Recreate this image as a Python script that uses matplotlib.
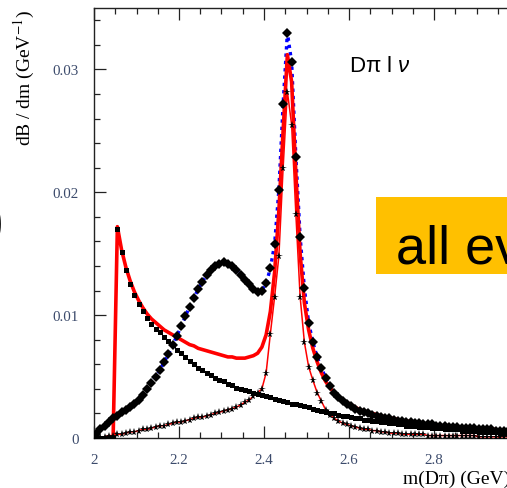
import numpy as np
import matplotlib
matplotlib.use('Agg')
import matplotlib.pyplot as plt
from matplotlib.ticker import MultipleLocator

plt.rcParams['mathtext.fontset'] = 'custom'
plt.rcParams['mathtext.rm'] = 'Liberation Sans'
plt.rcParams['mathtext.it'] = 'Liberation Sans:italic'

# bin centres of m(D pi), 10 MeV bins from 2.0 to 3.0 GeV
m_bins = np.round(np.arange(2.005, 3.0, 0.01), 3)

# full model (diamonds + blue dotted)
total = [
    0.0003, 0.0007, 0.0010, 0.0013, 0.0016, 0.0018, 0.0021, 0.0023, 0.0025, 0.0028,
    0.0031, 0.0035, 0.0040, 0.0045, 0.0050, 0.0055, 0.0062, 0.0068, 0.0076, 0.0083,
    0.0091, 0.0099, 0.0107, 0.0114, 0.0121, 0.0127, 0.0133, 0.0137, 0.0140, 0.0142,
    0.0143, 0.0142, 0.0140, 0.0137, 0.0133, 0.0129, 0.0125, 0.0121, 0.0119, 0.0120,
    0.0126, 0.0138, 0.0158, 0.0202, 0.0272, 0.0330, 0.0306, 0.0229, 0.0164, 0.0122,
    0.0094, 0.0078, 0.0066, 0.0057, 0.0049, 0.0042, 0.0037, 0.0033, 0.0030, 0.0028,
    0.0026, 0.0024, 0.0022, 0.0021, 0.0020, 0.0019, 0.0018, 0.0017, 0.0016, 0.0016,
    0.0015, 0.0014, 0.0014, 0.0013, 0.0013, 0.0012, 0.0012, 0.0011, 0.0011, 0.0011,
    0.0010, 0.0010, 0.0010, 0.0009, 0.0009, 0.0009, 0.0008, 0.0008, 0.0008, 0.0008,
    0.0007, 0.0007, 0.0007, 0.0007, 0.0006, 0.0006, 0.0006, 0.0006, 0.0006, 0.0005,
]

# two-resonance model (thick red)
two_res = [
    0.0000, 0.0000, 0.0000, 0.0000, 0.0000, 0.0172, 0.0153, 0.0139, 0.0128, 0.0119,
    0.0112, 0.0106, 0.0101, 0.0097, 0.0094, 0.0091, 0.0088, 0.0086, 0.0084, 0.0082,
    0.0080, 0.0078, 0.0076, 0.0075, 0.0073, 0.0072, 0.0071, 0.0070, 0.0069, 0.0068,
    0.0067, 0.0066, 0.0066, 0.0065, 0.0065, 0.0065, 0.0066, 0.0067, 0.0069, 0.0074,
    0.0084, 0.0103, 0.0135, 0.0185, 0.0250, 0.0312, 0.0290, 0.0215, 0.0150, 0.0110,
    0.0088, 0.0073, 0.0062, 0.0053, 0.0046, 0.0041, 0.0037, 0.0034, 0.0031, 0.0029,
    0.0027, 0.0025, 0.0023, 0.0022, 0.0021, 0.0020, 0.0019, 0.0018, 0.0017, 0.0016,
    0.0016, 0.0015, 0.0014, 0.0014, 0.0013, 0.0013, 0.0012, 0.0012, 0.0011, 0.0011,
    0.0011, 0.0010, 0.0010, 0.0010, 0.0009, 0.0009, 0.0009, 0.0008, 0.0008, 0.0008,
    0.0008, 0.0007, 0.0007, 0.0007, 0.0007, 0.0006, 0.0006, 0.0006, 0.0006, 0.0006,
]

# broad component above D pi threshold (small squares)
broad = [
    0.0000, 0.0000, 0.0000, 0.0000, 0.0000, 0.0170, 0.0151, 0.0137, 0.0125, 0.0116,
    0.0109, 0.0103, 0.0098, 0.0093, 0.0089, 0.0086, 0.0082, 0.0079, 0.0076, 0.0072,
    0.0069, 0.0066, 0.0063, 0.0060, 0.0057, 0.0055, 0.0053, 0.0051, 0.0049, 0.0047,
    0.0046, 0.0044, 0.0043, 0.0041, 0.0040, 0.0039, 0.0038, 0.0037, 0.0036, 0.0035,
    0.0034, 0.0033, 0.0032, 0.0031, 0.0030, 0.0029, 0.0028, 0.0028, 0.0027, 0.0026,
    0.0025, 0.0024, 0.0023, 0.0022, 0.0021, 0.0020, 0.0020, 0.0019, 0.0018, 0.0018,
    0.0017, 0.0016, 0.0016, 0.0015, 0.0015, 0.0014, 0.0014, 0.0013, 0.0013, 0.0012,
    0.0012, 0.0011, 0.0011, 0.0010, 0.0010, 0.0010, 0.0009, 0.0009, 0.0009, 0.0008,
    0.0008, 0.0008, 0.0007, 0.0007, 0.0007, 0.0007, 0.0006, 0.0006, 0.0006, 0.0006,
    0.0005, 0.0005, 0.0005, 0.0005, 0.0005, 0.0004, 0.0004, 0.0004, 0.0004, 0.0004,
]

# narrow resonance (stars, thin red)
narrow = [
    0.0000, 0.0001, 0.0001, 0.0002, 0.0002, 0.0003, 0.0003, 0.0004, 0.0005, 0.0005,
    0.0006, 0.0007, 0.0007, 0.0008, 0.0009, 0.0010, 0.0010, 0.0011, 0.0012, 0.0013,
    0.0013, 0.0014, 0.0015, 0.0016, 0.0017, 0.0017, 0.0018, 0.0019, 0.0020, 0.0021,
    0.0022, 0.0023, 0.0024, 0.0025, 0.0027, 0.0029, 0.0031, 0.0034, 0.0037, 0.0040,
    0.0053, 0.0085, 0.0115, 0.0148, 0.0220, 0.0282, 0.0255, 0.0182, 0.0115, 0.0078,
    0.0058, 0.0047, 0.0037, 0.0030, 0.0023, 0.0019, 0.0016, 0.0014, 0.0012, 0.0011,
    0.0010, 0.0009, 0.0008, 0.0007, 0.0007, 0.0006, 0.0006, 0.0005, 0.0005, 0.0004,
    0.0004, 0.0004, 0.0003, 0.0003, 0.0003, 0.0003, 0.0003, 0.0003, 0.0002, 0.0002,
    0.0002, 0.0002, 0.0002, 0.0002, 0.0002, 0.0002, 0.0002, 0.0002, 0.0002, 0.0002,
    0.0001, 0.0001, 0.0001, 0.0001, 0.0001, 0.0001, 0.0001, 0.0001, 0.0001, 0.0001,
]

x_ticks = [2.0, 2.2, 2.4, 2.6, 2.8]
x_tick_labels = ['2', '2.2', '2.4', '2.6', '2.8']
y_ticks = [0, 0.01, 0.02, 0.03]
y_tick_labels = ['0', '0.01', '0.02', '0.03']
label_col = '#3b4a6b'

W, H = 507, 489
fig = plt.figure(figsize=(W / 100, H / 100), dpi=100)
# frame runs out past the right edge (x up to 3.0)
ax = fig.add_axes([94 / W, (H - 439) / H, 425 / W, 430 / H])

ax.plot(m_bins, total, color='#0000ff', lw=2.4, ls=(0, (1, 1.2)), zorder=2)
ax.plot(m_bins, two_res, color='#ff0000', lw=2.6, zorder=3)
ax.plot(m_bins, narrow, color='#ff0000', lw=1.1, zorder=3)
ax.plot(m_bins, broad, ls='none', marker='s', ms=3.6, color='black', mew=0, zorder=4)
ax.plot(m_bins, narrow, ls='none', marker='*', ms=5.8, color='black', mew=0, zorder=4)
ax.plot(m_bins, total, ls='none', marker='D', ms=5.2, color='black', mew=0, zorder=5)

ax.set_xlim(2.0, 3.0)
ax.set_ylim(0, 0.035)
ax.set_xticks(x_ticks)
ax.set_yticks(y_ticks)
ax.xaxis.set_minor_locator(MultipleLocator(0.05))
ax.yaxis.set_minor_locator(MultipleLocator(0.002))
ax.set_xticklabels(x_tick_labels)
ax.set_yticklabels(y_tick_labels)
ax.tick_params(which='both', direction='in', top=True, right=True, colors='#222222',
               labelcolor=label_col, labelsize=10.8)
ax.tick_params(which='major', length=8.5, width=0.9, pad=11)
ax.tick_params(which='minor', length=4.3, width=0.9)
for lab in ax.get_xticklabels() + ax.get_yticklabels():
    lab.set_fontfamily('Liberation Serif')
for s in ax.spines.values():
    s.set_linewidth(1.0)
    s.set_color('#222222')

fig.text(24 / W, 1 - 10 / H, r'dB / dm (GeV$^{-1}$)', rotation=90, ha='center', va='top',
         fontsize=14, family='Liberation Serif', math_fontfamily='stix')
fig.text(403 / W, 1 - 484 / H, 'm(D\u03c0) (GeV)', ha='left', va='baseline',
         fontsize=14, family='Liberation Serif')

fig.text(349 / W, 1 - 72 / H, 'D\u03c0 l $\\nu$', ha='left', va='baseline',
         fontsize=16, family='Liberation Sans', math_fontfamily='custom')

# highlighted box over the plot
box = plt.Rectangle((376 / W, 1 - 275 / H), 200 / W, 77 / H, transform=fig.transFigure,
                    facecolor='#ffc000', edgecolor='none', zorder=10)
fig.patches.append(box)
fig.text(396 / W, 1 - 264 / H, 'all events', ha='left', va='baseline', fontsize=39,
         family='Liberation Sans', zorder=11)

fig.text(4 / W, 1 - 224 / H, ')', ha='right', va='center', fontsize=38,
         family='Liberation Sans', fontweight='bold')

fig.savefig('out.png', dpi=100)
